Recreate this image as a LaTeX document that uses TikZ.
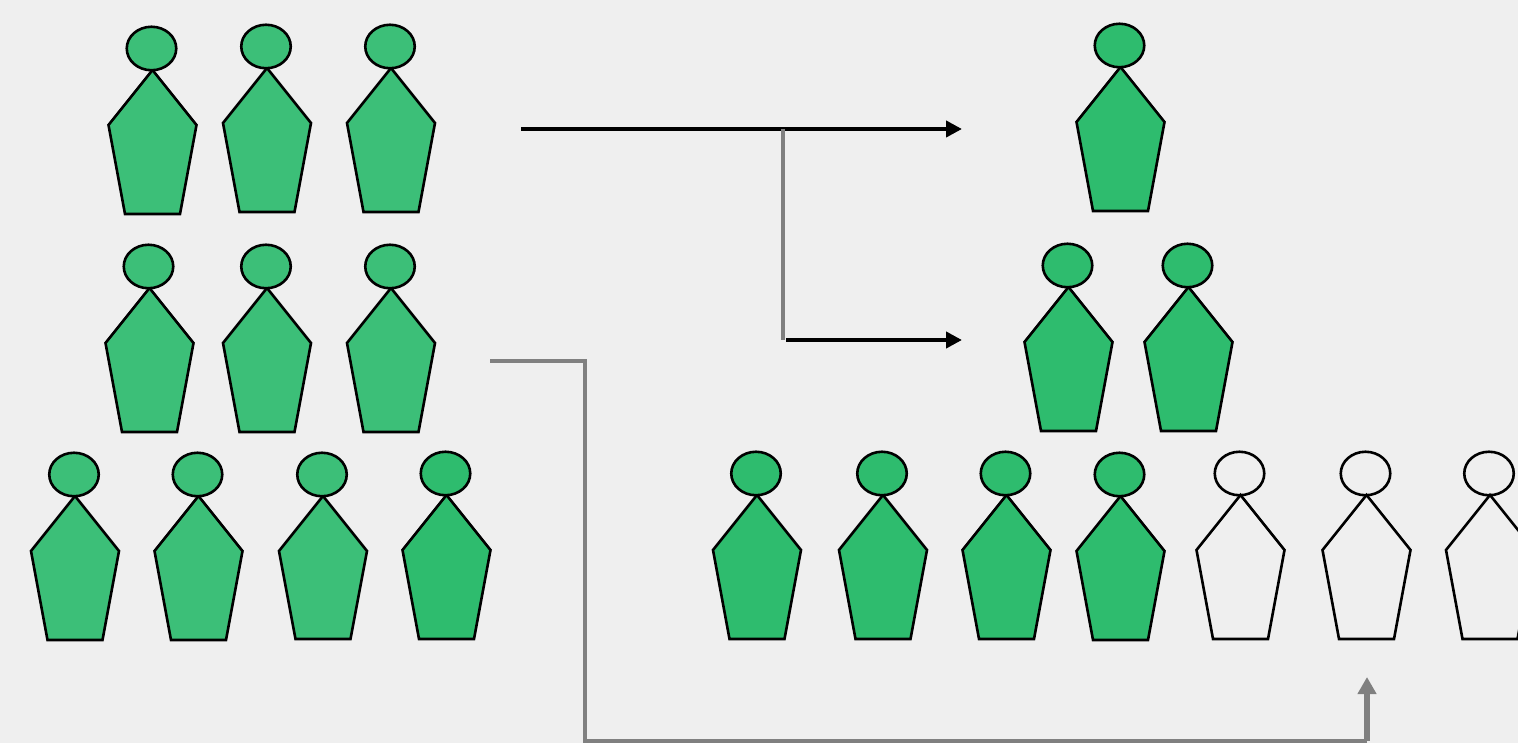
\documentclass[tikz,border=0pt]{standalone}
\usetikzlibrary{arrows.meta,shapes.geometric}
\definecolor{bgc}{HTML}{EFEFEF}
\definecolor{gl}{HTML}{3CBF78}
\definecolor{gd}{HTML}{2EBC6E}
\definecolor{gy}{HTML}{808080}
\tikzset{
  headshape/.style={draw=black,line width=2.6pt,ellipse,minimum width=49.5pt,minimum height=43.5pt,inner sep=0pt,outer sep=0pt},
  bodyshape/.style={draw=black,line width=2.6pt,line join=miter,miter limit=10},
  blackline/.style={draw=black,line width=4.4pt,-{Triangle[length=16pt,width=16pt]}},
  greyline/.style={draw=gy,line width=3.4pt},
  greyarrow/.style={draw=gy,line width=5.4pt,-{Triangle[length=17pt,width=18pt]}}
}
% name, apex x, apex y, bottom y, fill
\newcommand{\personfig}[5]{%
  \path[bodyshape,fill=#5] (#2,#3) -- (#2+44,#3+55) -- (#2+27.5,#4) -- (#2-27.5,#4) -- (#2-44,#3+55) -- cycle;
  \node[headshape,fill=#5] (#1) at (#2-1,#3-21.5) {};
}
\begin{document}
\begin{tikzpicture}[x=1pt,y=-1pt]
\useasboundingbox (0,0) rectangle (1518,743);
\clip (0,0) rectangle (1518,743);
\fill[bgc] (0,0) rectangle (1518,743);
% left group
\personfig{a1}{152.5}{70}{214}{gl}
\personfig{a2}{267}{68}{212}{gl}
\personfig{a3}{391}{68}{212}{gl}
\personfig{b1}{149.5}{288}{432}{gl}
\personfig{b2}{267}{288}{432}{gl}
\personfig{b3}{391}{288}{432}{gl}
\personfig{c1}{75}{496}{640}{gl}
\personfig{c2}{198.5}{496}{640}{gl}
\personfig{c3}{323}{496}{639}{gl}
\personfig{c4}{446.5}{495}{639}{gd}
% right group
\personfig{d1}{1120.5}{67}{211}{gd}
\personfig{e1}{1068.5}{287}{431}{gd}
\personfig{e2}{1188.5}{287}{431}{gd}
\personfig{f1}{757}{495}{639}{gd}
\personfig{f2}{883}{495}{639}{gd}
\personfig{f3}{1006.5}{495}{639}{gd}
\personfig{f4}{1120.5}{496}{640}{gd}
\personfig{f5}{1240.5}{495}{639}{none}
\personfig{f6}{1366.5}{495}{639}{none}
\personfig{f7}{1490}{495}{639}{none}
% connector ends
\coordinate (s1) at (521,129);
\coordinate (t1) at (962,129);
\coordinate (j1) at (783,129);
\coordinate (j2) at (783,340);
\coordinate (s2) at (786,340);
\coordinate (t2) at (962,340);
\coordinate (s3) at (490,361);
\coordinate (k1) at (585,361);
\coordinate (k2) at (585,741);
\coordinate (k3) at (1367,741);
\coordinate (t3) at (1367,677);
% connectors
\draw[blackline] (s1) -- (t1);
\draw[greyline,line width=4pt] (j1) -- (j2);
\draw[blackline] (s2) -- (t2);
\draw[greyline] (s3) -- (k1) -- (k2) -- (k3);
\draw[greyarrow] (k3) -- (t3);
\end{tikzpicture}
\end{document}
